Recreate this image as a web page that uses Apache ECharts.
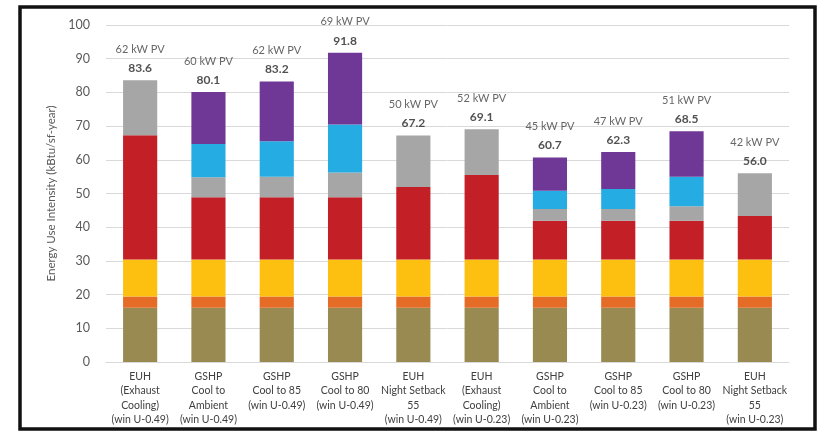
<!DOCTYPE html>
<html>
<head>
<meta charset="utf-8">
<script src="https://cdn.jsdelivr.net/npm/echarts@6/dist/echarts.min.js"></script>
<style>
  html, body { margin: 0; padding: 0; background: #fff; }
  #chart { width: 821px; height: 432px; }
</style>
</head>
<body>
<div id="chart"></div>
<script>
// categories (x axis)
const categories = [
  'EUH\n(Exhaust\nCooling)\n(win U-0.49)',
  'GSHP\nCool to\nAmbient\n(win U-0.49)',
  'GSHP\nCool to 85\n(win U-0.49)',
  'GSHP\nCool to 80\n(win U-0.49)',
  'EUH\nNight Setback\n55\n(win U-0.49)',
  'EUH\n(Exhaust\nCooling)\n(win U-0.23)',
  'GSHP\nCool to\nAmbient\n(win U-0.23)',
  'GSHP\nCool to 85\n(win U-0.23)',
  'GSHP\nCool to 80\n(win U-0.23)',
  'EUH\nNight Setback\n55\n(win U-0.23)'
]

// stacked segments, bottom to top (kBtu/sf-year)
const olive  = [16.1, 16.1, 16.1, 16.1, 16.1, 16.1, 16.1, 16.1, 16.1, 16.1]
const orange = [3.3, 3.3, 3.3, 3.3, 3.3, 3.3, 3.3, 3.3, 3.3, 3.3]
const yellow = [11.0, 11.0, 11.0, 11.0, 11.0, 11.0, 11.0, 11.0, 11.0, 11.0]
const red    = [36.9, 18.5, 18.5, 18.5, 21.5, 25.1, 11.5, 11.5, 11.5, 12.9]
const gray   = [16.3, 5.9, 6.1, 7.3, 15.3, 13.6, 3.5, 3.5, 4.3, 12.7]
const blue   = [0, 9.9, 10.5, 14.3, 0, 0, 5.4, 5.9, 8.8, 0]
const purple = [0, 15.4, 17.7, 21.3, 0, 0, 9.9, 11.0, 13.5, 0]

// labels above bars
const totals = [83.6, 80.1, 83.2, 91.8, 67.2, 69.1, 60.7, 62.3, 68.5, 56.0]
const pvKw   = [62, 60, 62, 69, 50, 52, 45, 47, 51, 42]

const yTicks = { min: 0, max: 100, interval: 10 }

const layers = [
  { name: 'olive', data: olive, color: '#988a50' },
  { name: 'orange', data: orange, color: '#e46c27' },
  { name: 'yellow', data: yellow, color: '#fdbf10' },
  { name: 'red', data: red, color: '#c21f27' },
  { name: 'gray', data: gray, color: '#a6a6a6' },
  { name: 'blue', data: blue, color: '#25ace2' },
  { name: 'purple', data: purple, color: '#6f3896' }
]

const chart = echarts.init(document.getElementById('chart'))

const barSeries = layers.map((l) => ({
  name: l.name,
  type: 'bar',
  stack: 'eui',
  barWidth: '50%',
  data: l.data.map((v) => (v === 0 ? '-' : v)),
  itemStyle: { color: l.color },
  silent: true
}))

chart.setOption({
  animation: false,
  textStyle: { fontFamily: 'Lato, "Open Sans", sans-serif' },
  grid: { left: 106, right: 32, top: 25, bottom: 70 },
  xAxis: {
    type: 'category',
    data: categories,
    axisLine: { lineStyle: { color: '#d9d9d9', width: 1 } },
    axisTick: { show: false },
    axisLabel: {
      interval: 0,
      margin: 7,
      fontSize: 10.5,
      lineHeight: 14.5,
      color: '#404040'
    }
  },
  yAxis: {
    type: 'value',
    min: yTicks.min,
    max: yTicks.max,
    interval: yTicks.interval,
    name: 'Energy Use Intensity (kBtu/sf-year)',
    nameLocation: 'middle',
    nameGap: 47,
    nameTextStyle: { fontSize: 11.5, color: '#595959' },
    axisLine: { show: false },
    axisTick: { show: false },
    axisLabel: { fontSize: 12.5, color: '#595959', margin: 16 },
    splitLine: { lineStyle: { color: '#d9d9d9', width: 1 } }
  },
  series: [
    ...barSeries,
    {
      name: 'total',
      type: 'scatter',
      symbolSize: 0,
      data: totals,
      silent: true,
      label: {
        show: true,
        position: 'top',
        distance: 4,
        formatter: (p) => `{pv|${pvKw[p.dataIndex]} kW PV}\n{tot|${totals[p.dataIndex].toFixed(1)}}`,
        rich: {
          pv: { fontSize: 11, color: '#404040', lineHeight: 22 },
          tot: { fontSize: 12, fontWeight: 'bold', color: '#262626', lineHeight: 16 }
        }
      }
    }
  ],
  graphic: [
    {
      type: 'rect',
      silent: true,
      shape: { x: 20, y: 7, width: 795, height: 422 },
      style: { fill: 'none', stroke: '#111', lineWidth: 3.5 }
    }
  ]
})

window.addEventListener('resize', () => chart.resize())
</script>
</body>
</html>
